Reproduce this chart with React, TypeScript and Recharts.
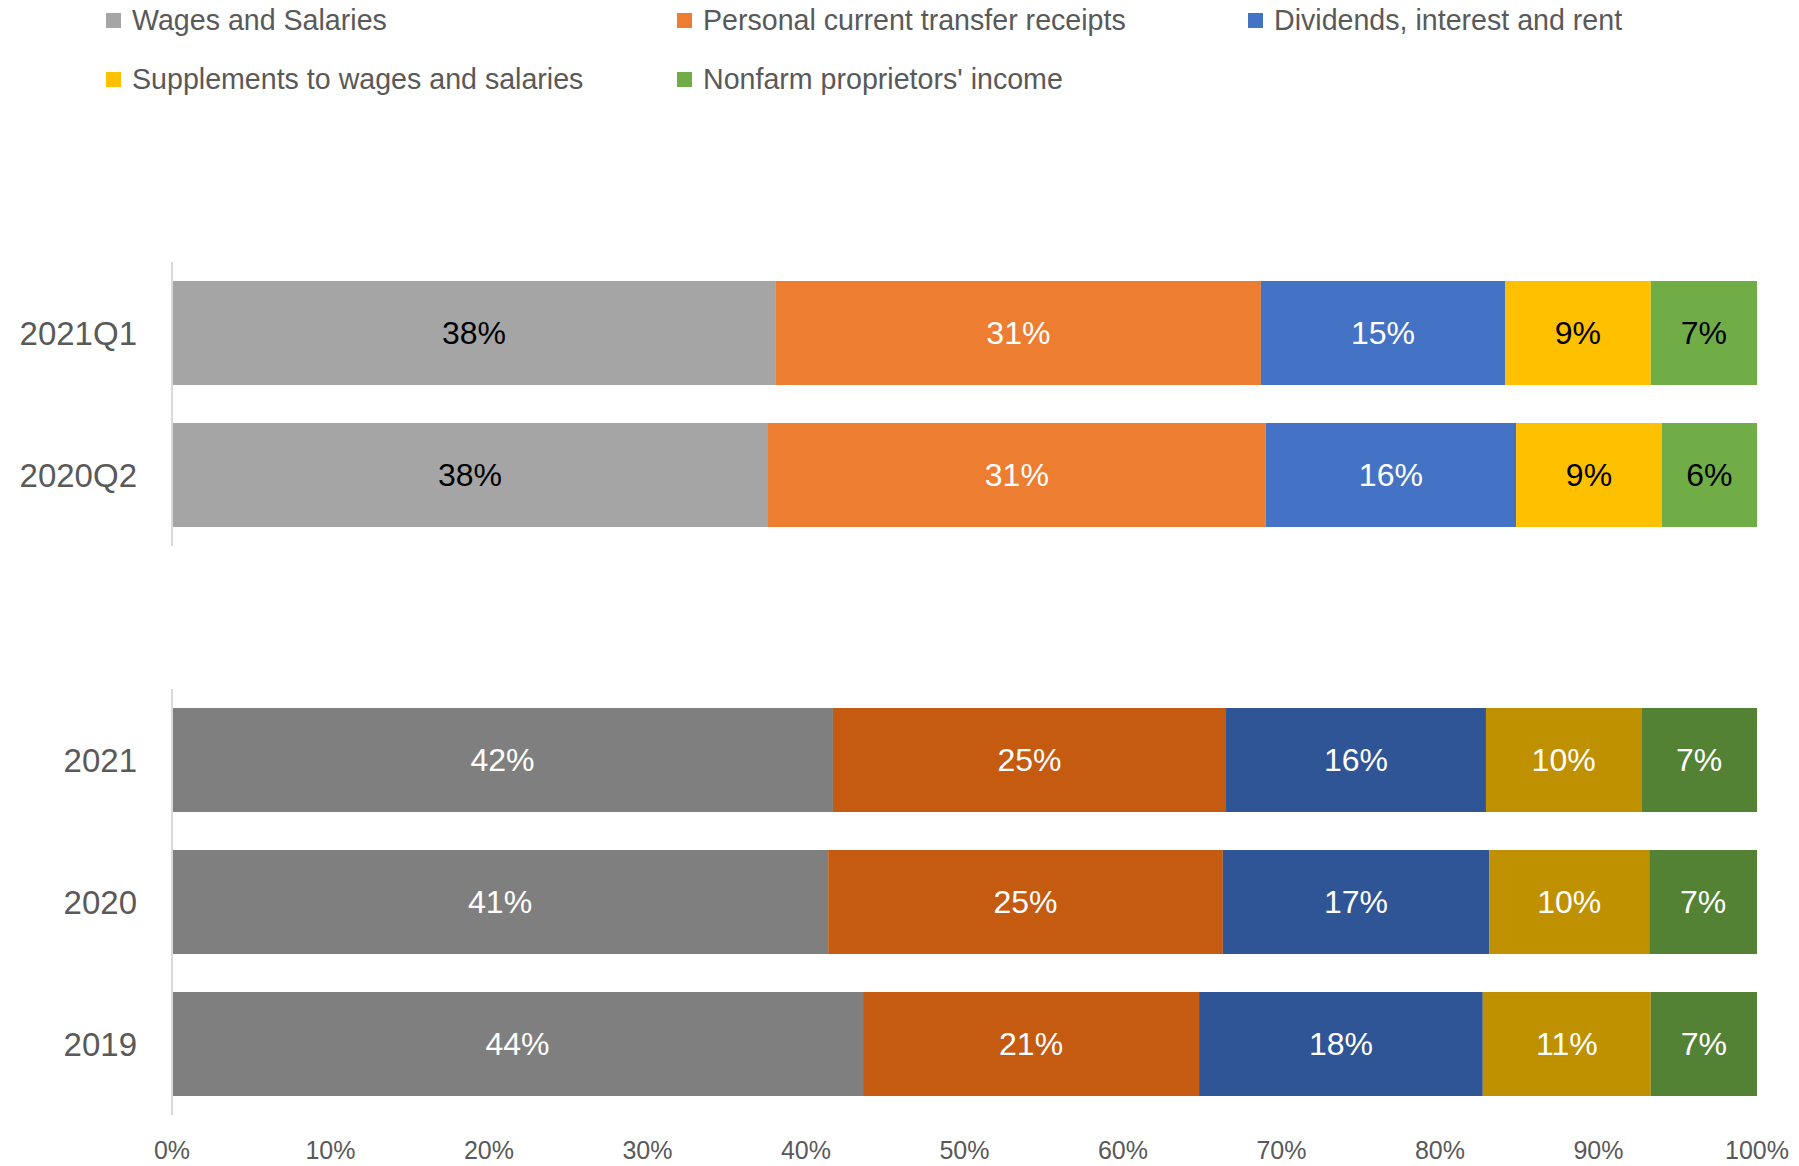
import React from "react";
import { BarChart, Bar, XAxis, YAxis, LabelList } from "recharts";

const categories = ["2021Q1", "2020Q2", "2021", "2020", "2019"];
const wages = [38.1, 37.6, 41.7, 41.4, 43.6];
const transfers = [30.6, 31.4, 24.8, 24.9, 21.2];
const dividends = [15.4, 15.8, 16.4, 16.8, 17.9];
const supplements = [9.2, 9.2, 9.8, 10.1, 10.6];
const proprietors = [6.7, 6.0, 7.3, 6.8, 6.7];
const xTicks = [0, 10, 20, 30, 40, 50, 60, 70, 80, 90, 100];

const seriesNames = [
  "Wages and Salaries",
  "Personal current transfer receipts",
  "Dividends, interest and rent",
  "Supplements to wages and salaries",
  "Nonfarm proprietors' income",
];
const seriesValues = [wages, transfers, dividends, supplements, proprietors];

// quarterly rows use the light palette, annual rows the dark one
const LIGHT = ["#A5A5A5", "#ED7D31", "#4472C4", "#FFC000", "#70AD47"];
const DARK = ["#7F7F7F", "#C55A11", "#2F5597", "#BF9000", "#548235"];
const LIGHT_LABELS = ["#000000", "#FFFFFF", "#FFFFFF", "#000000", "#000000"];
const DARK_LABELS = ["#FFFFFF", "#FFFFFF", "#FFFFFF", "#FFFFFF", "#FFFFFF"];

const FONT = '"Liberation Sans", Arial, sans-serif';
const TEXT = "#595959";

function rowsFor(indices: number[]) {
  return indices.map((i) => {
    const row: Record<string, any> = { name: categories[i] };
    seriesNames.forEach((s, k) => {
      row[s] = seriesValues[k][i];
    });
    return row;
  });
}

const pct = (v: any) => `${Math.round(Number(v))}%`;

interface PanelProps {
  rows: Record<string, any>[];
  palette: string[];
  labelColors: string[];
  height: number;
  top: number;
  showTicks: boolean;
}

function Panel({ rows, palette, labelColors, height, top, showTicks }: PanelProps) {
  return (
    <BarChart
      width={1799}
      height={height}
      data={rows}
      layout="vertical"
      margin={{ top, right: 42, bottom: showTicks ? 0 : 14, left: 0 }}
      barSize={104}
    >
      <XAxis
        type="number"
        domain={[0, 100]}
        allowDataOverflow
        ticks={xTicks}
        tickFormatter={(v) => `${v}%`}
        hide={!showTicks}
        height={51}
        axisLine={false}
        tickLine={false}
        tickSize={0}
        tickMargin={26}
        tick={{ fill: TEXT, fontSize: 25 }}
        interval={0}
      />
      <YAxis
        type="category"
        dataKey="name"
        width={172}
        axisLine={{ stroke: "#D9D9D9", strokeWidth: 2 }}
        tickLine={false}
        tickSize={0}
        tickMargin={35}
        tick={{ fill: TEXT, fontSize: 33 }}
      />
      {seriesNames.map((s, k) => (
        <Bar
          key={s}
          dataKey={s}
          stackId="a"
          fill={palette[k]}
          isAnimationActive={false}
        >
          <LabelList
            dataKey={s}
            position="center"
            formatter={pct}
            fill={labelColors[k]}
            fontSize={32}
          />
        </Bar>
      ))}
    </BarChart>
  );
}

function LegendBlock() {
  return (
    <div
      style={{
        position: "absolute",
        left: 106,
        top: 2,
        display: "grid",
        gridTemplateColumns: "571px 571px 571px",
        rowGap: 22,
        fontSize: 28.6,
        color: TEXT,
      }}
    >
      {seriesNames.map((s, k) => (
        <div key={s} style={{ display: "flex", alignItems: "center", height: 37 }}>
          <span
            style={{
              width: 15,
              height: 15,
              background: LIGHT[k],
              marginRight: 11,
              display: "inline-block",
            }}
          />
          <span>{s}</span>
        </div>
      ))}
    </div>
  );
}

export default function App() {
  return (
    <div
      style={{
        position: "absolute",
        left: 0,
        top: 0,
        width: 1799,
        height: 1166,
        background: "#FFFFFF",
        fontFamily: FONT,
      }}
    >
      <LegendBlock />
      <div style={{ position: "absolute", left: 0, top: 0 }}>
        <Panel
          rows={rowsFor([0, 1])}
          palette={LIGHT}
          labelColors={LIGHT_LABELS}
          height={560}
          top={262}
          showTicks={false}
        />
      </div>
      <div style={{ position: "absolute", left: 0, top: 560 }}>
        <Panel
          rows={rowsFor([2, 3, 4])}
          palette={DARK}
          labelColors={DARK_LABELS}
          height={606}
          top={129}
          showTicks={true}
        />
      </div>
    </div>
  );
}
